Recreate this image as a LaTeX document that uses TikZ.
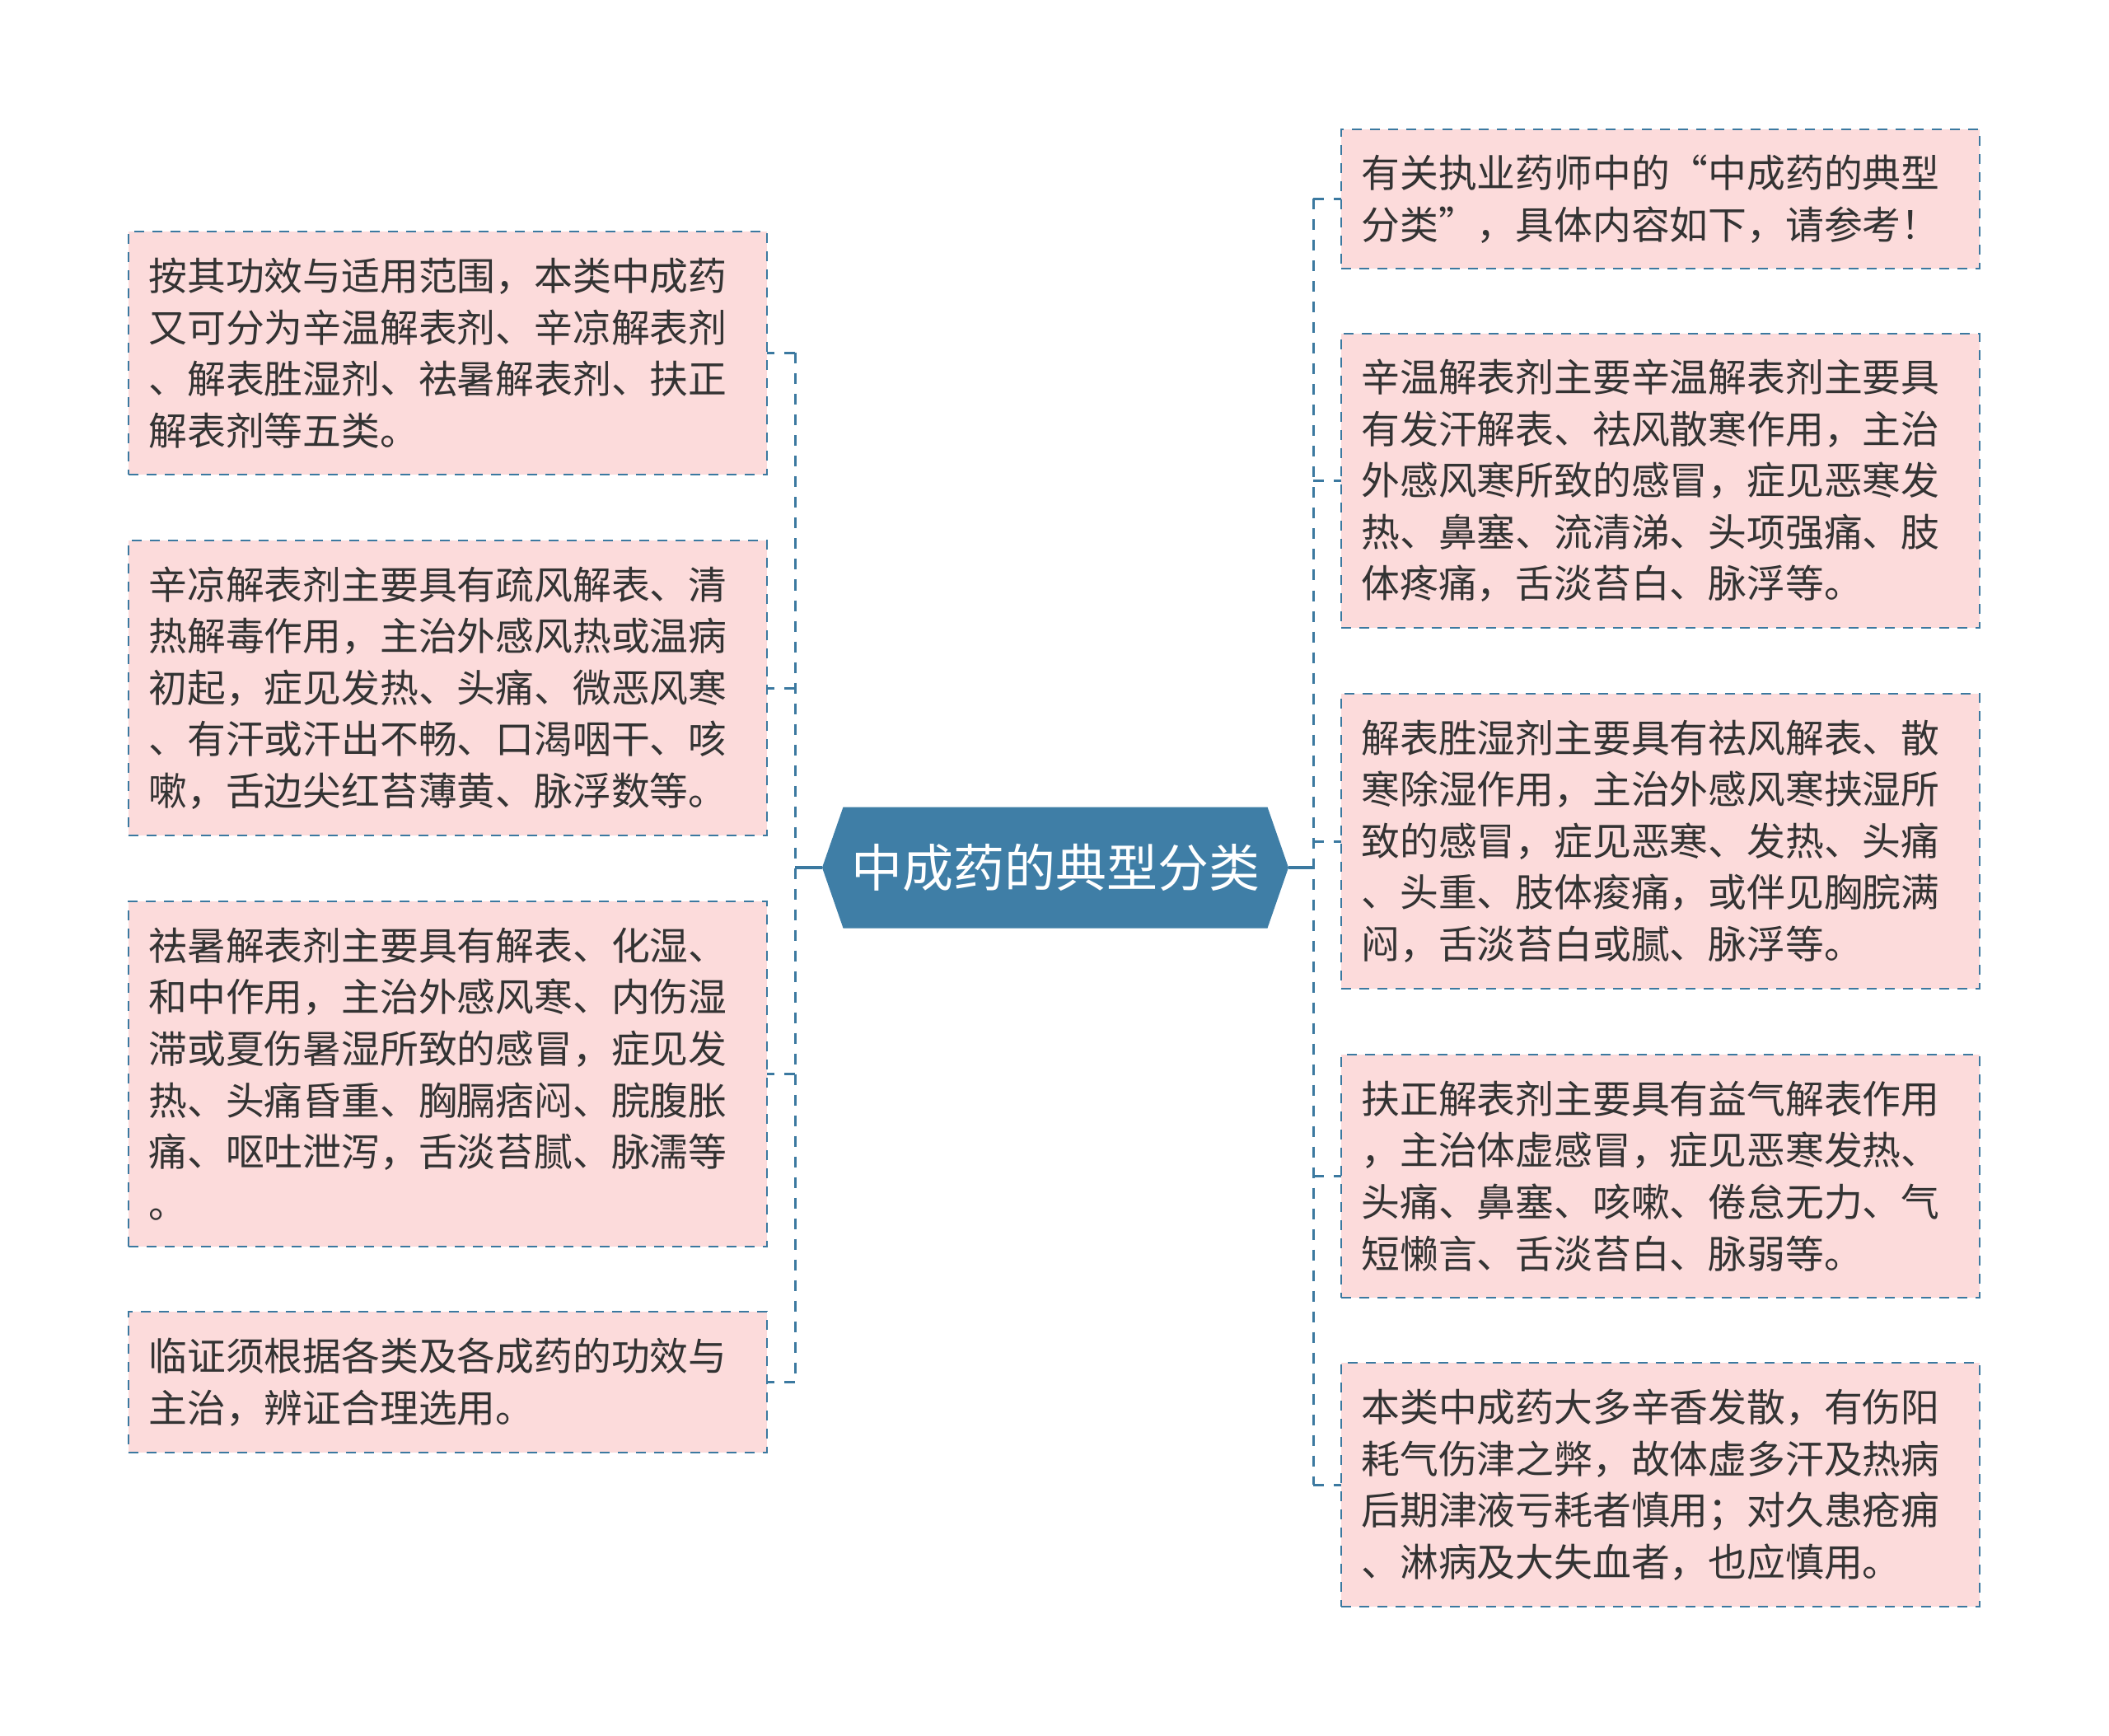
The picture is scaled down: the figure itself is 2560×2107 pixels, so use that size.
\documentclass[tikz,border=0pt]{standalone}
\usepackage{fontspec}
\setmainfont{Noto Sans CJK SC}
\usepackage{xcolor}
\usepackage{tikz}
\usetikzlibrary{backgrounds}

\definecolor{leafpink}{HTML}{FCDBDB}
\definecolor{lineblue}{HTML}{3B79A0}
\definecolor{rootblue}{HTML}{3F7EA6}
\definecolor{textgray}{HTML}{333333}

\tikzset{
  leaf/.style={fill=leafpink, draw=lineblue, line width=1.4pt,
    dash pattern=on 6pt off 5pt, outer sep=0pt, inner xsep=12.25pt,
    minimum width=387.5pt, text width=363pt, align=left, anchor=north west,
    text=textgray, font=\fontsize{23.4pt}{31.3pt}\selectfont},
  root/.style={minimum width=283pt, minimum height=73.5pt, inner sep=0pt,
    outer sep=0pt, text=white, font=\fontsize{31pt}{36pt}\selectfont},
  trunk/.style={draw=lineblue, line width=1.5pt, dash pattern=on 6.5pt off 6pt},
  stem/.style={draw=lineblue, line width=1.7pt}
}

\begin{document}
\begin{tikzpicture}[x=0.5pt,y=-0.5pt]

  \begin{scope}[on background layer]
    \fill[white] (0,0) rectangle (2560,2107);
  \end{scope}
  \useasboundingbox (0,0) rectangle (2560,2107);

  % centre
  \node[root] (root) at (1281,1053) {中成药的典型分类};
  \begin{scope}[on background layer]
    \fill[rootblue] (root.west) -- ([xshift=12.75pt]root.north west)
      -- ([xshift=-12.75pt]root.north east) -- (root.east)
      -- ([xshift=-12.75pt]root.south east) -- ([xshift=12.75pt]root.south west) -- cycle;
  \end{scope}

  % left side
  \node[leaf, minimum height=147.5pt] (l1) at (156,281) {按其功效与适用范围，本类中成药\\又可分为辛温解表剂、辛凉解表剂\\、解表胜湿剂、祛暑解表剂、扶正\\解表剂等五类。};
  \node[leaf, minimum height=179pt] (l2) at (156,656) {辛凉解表剂主要具有疏风解表、清\\热解毒作用，主治外感风热或温病\\初起，症见发热、头痛、微恶风寒\\、有汗或汗出不畅、口渴咽干、咳\\嗽，舌边尖红苔薄黄、脉浮数等。};
  \node[leaf, minimum height=209.5pt] (l3) at (156,1094) {祛暑解表剂主要具有解表、化湿、\\和中作用，主治外感风寒、内伤湿\\滞或夏伤暑湿所致的感冒，症见发\\热、头痛昏重、胸膈痞闷、脘腹胀\\痛、呕吐泄泻，舌淡苔腻、脉濡等\\。};
  \node[leaf, minimum height=85.5pt] (l4) at (156,1592) {临证须根据各类及各成药的功效与\\主治，辨证合理选用。};

  % right side
  \node[leaf, minimum height=84.5pt] (r1) at (1628,157) {有关执业药师中的“中成药的典型\\分类”，具体内容如下，请参考！};
  \node[leaf, minimum height=178.5pt] (r2) at (1628,405) {辛温解表剂主要辛温解表剂主要具\\有发汗解表、祛风散寒作用，主治\\外感风寒所致的感冒，症见恶寒发\\热、鼻塞、流清涕、头项强痛、肢\\体疼痛，舌淡苔白、脉浮等。};
  \node[leaf, minimum height=179pt] (r3) at (1628,842) {解表胜湿剂主要具有祛风解表、散\\寒除湿作用，主治外感风寒挟湿所\\致的感冒，症见恶寒、发热、头痛\\、头重、肢体痠痛，或伴见胸脘满\\闷，舌淡苔白或腻、脉浮等。};
  \node[leaf, minimum height=147.5pt] (r4) at (1628,1280) {扶正解表剂主要具有益气解表作用\\，主治体虚感冒，症见恶寒发热、\\头痛、鼻塞、咳嗽、倦怠无力、气\\短懒言、舌淡苔白、脉弱等。};
  \node[leaf, minimum height=148pt] (r5) at (1628,1654) {本类中成药大多辛香发散，有伤阳\\耗气伤津之弊，故体虚多汗及热病\\后期津液亏耗者慎用；对久患疮痈\\、淋病及大失血者，也应慎用。};

  % connectors
  \coordinate (jl) at (965,1053);
  \coordinate (jr) at (1594,1053);
  \draw[stem] (root.west) -- (jl);
  \draw[stem] (root.east) -- (jr);
  \draw[trunk] (l1.east -| jl) -- (l4.east -| jl);
  \draw[trunk] (r1.west -| jr) -- (r5.west -| jr);
  \foreach \n in {l1,l2,l3,l4}
    \draw[trunk] (\n.east -| jl) -- (\n.east);
  \foreach \n in {r1,r2,r3,r4,r5}
    \draw[trunk] (\n.west -| jr) -- (\n.west);
\end{tikzpicture}
\end{document}
